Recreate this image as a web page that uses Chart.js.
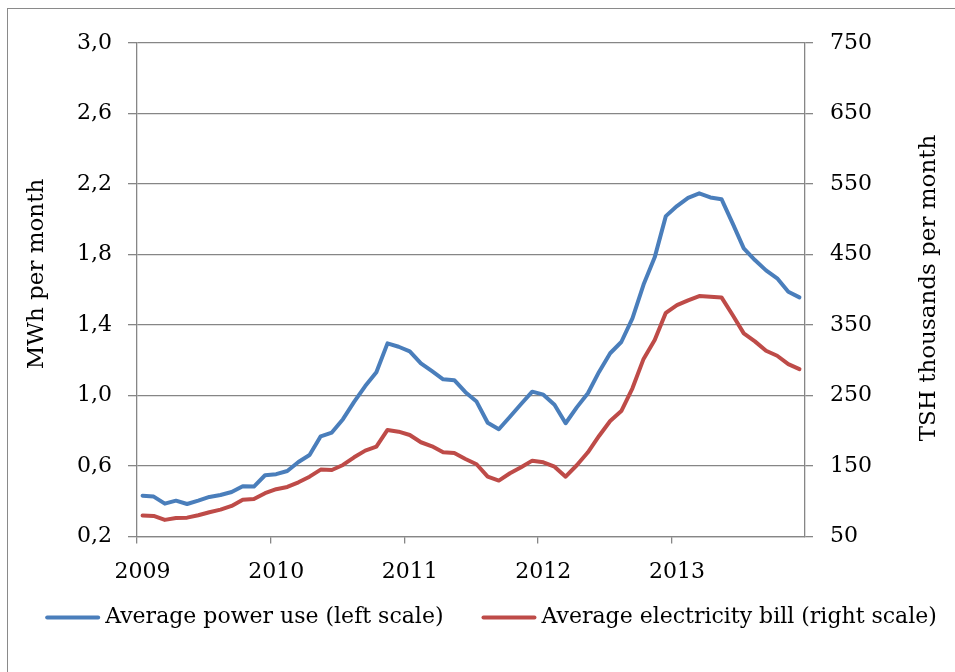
<!DOCTYPE html>
<html>
<head>
<meta charset="utf-8">
<script src="https://cdn.jsdelivr.net/npm/chart.js@4/dist/chart.umd.min.js"></script>
<style>
  html, body { margin: 0; padding: 0; background: #fff; overflow: hidden; }
  #frame { position: absolute; left: 7px; top: 8px; width: 1000px; height: 700px; border: 1px solid #8a8a8a; }
  #wrap { position: absolute; left: 0; top: 0; width: 955px; height: 672px; }
</style>
</head>
<body>
<div id="frame"></div>
<div id="wrap"><canvas id="chart"></canvas></div>
<script>
// Monthly averages, Jan 2009 - Dec 2013
const years = ['2009', '2010', '2011', '2012', '2013'];
const months = years.flatMap(y => Array.from({ length: 12 }, (_, m) => `${y}-${String(m + 1).padStart(2, '0')}`));

// MWh per month (left axis)
const powerUse = [
  0.432, 0.427, 0.387, 0.404, 0.385, 0.404, 0.425, 0.436, 0.453, 0.486, 0.484, 0.548,
  0.554, 0.572, 0.623, 0.663, 0.769, 0.790, 0.866, 0.964, 1.054, 1.132, 1.296, 1.277,
  1.251, 1.183, 1.138, 1.092, 1.087, 1.019, 0.966, 0.846, 0.809, 0.880, 0.952, 1.022,
  1.005, 0.948, 0.843, 0.933, 1.013, 1.134, 1.240, 1.304, 1.438, 1.630, 1.784, 2.018,
  2.075, 2.122, 2.147, 2.124, 2.114, 1.977, 1.835, 1.769, 1.710, 1.665, 1.589, 1.557
];

// TSH thousands per month (right axis)
const electricityBill = [
  79.8, 79.3, 73.7, 76.5, 76.9, 80.3, 84.6, 88.3, 93.5, 102.4, 103.4, 111.5,
  117.2, 120.4, 127.0, 135.0, 145.0, 144.5, 151.6, 162.5, 171.9, 177.5, 201.2, 198.8,
  194.1, 183.8, 178.1, 169.6, 168.6, 160.1, 152.6, 135.0, 129.4, 139.8, 148.3, 157.7,
  155.4, 149.2, 135.0, 151.2, 169.6, 192.7, 214.0, 228.1, 260.3, 302.0, 328.7, 367.4,
  378.3, 385.0, 391.1, 390.1, 389.2, 364.2, 338.2, 326.9, 313.6, 306.5, 294.7, 287.6
];

const leftTitle = 'MWh per month';
const rightTitle = 'TSH thousands per month';

const GRID = '#868686';
const FONT = '"DejaVu Serif", "Liberation Serif", serif';

// Both axis titles read bottom-to-top, so they are drawn here instead of scale.title
const axisTitles = {
  id: 'axisTitles',
  afterDraw(chart) {
    const { ctx, chartArea } = chart;
    const drawUp = (text, x, y) => {
      ctx.save();
      ctx.translate(x, y);
      ctx.rotate(-Math.PI / 2);
      ctx.fillText(text, 0, 0);
      ctx.restore();
    };
    ctx.save();
    ctx.font = `23px ${FONT}`;
    ctx.fillStyle = '#000';
    ctx.textAlign = 'center';
    ctx.textBaseline = 'middle';
    drawUp(leftTitle, chartArea.left - 100, chartArea.top + 231);
    drawUp(rightTitle, chartArea.right + 124, chartArea.top + 245);
    ctx.restore();
  }
};

// Single-row legend: long line sample, short gap, label; wider gap between entries
const lineLegend = {
  id: 'lineLegend',
  afterDraw(chart) {
    const { ctx, chartArea } = chart;
    const sample = 55, textGap = 5, itemGap = 38;
    ctx.save();
    ctx.font = `22px ${FONT}`;
    ctx.textBaseline = 'middle';
    ctx.textAlign = 'left';
    const items = chart.data.datasets.map(ds => ({
      text: ds.label, color: ds.borderColor, w: ctx.measureText(ds.label).width
    }));
    const total = items.reduce((s, it) => s + sample + textGap + it.w, 0) + itemGap * (items.length - 1);
    let x = chartArea.left + 354 - total / 2;
    const y = chartArea.bottom + 81;
    items.forEach(it => {
      ctx.strokeStyle = it.color;
      ctx.lineWidth = 4;
      ctx.lineCap = 'round';
      ctx.beginPath();
      ctx.moveTo(x + 2, y);
      ctx.lineTo(x + sample - 2, y);
      ctx.stroke();
      ctx.fillStyle = '#000';
      ctx.fillText(it.text, x + sample + textGap, y);
      x += sample + textGap + it.w + itemGap;
    });
    ctx.restore();
  }
};

new Chart(document.getElementById('chart'), {
  type: 'line',
  data: {
    labels: months,
    datasets: [
      {
        label: 'Average power use (left scale)',
        data: powerUse,
        yAxisID: 'y',
        borderColor: '#4a7ebb',
        backgroundColor: '#4a7ebb',
        borderWidth: 4,
        pointRadius: 0,
        tension: 0,
        borderJoinStyle: 'round',
        borderCapStyle: 'round'
      },
      {
        label: 'Average electricity bill (right scale)',
        data: electricityBill,
        yAxisID: 'y2',
        borderColor: '#be4b48',
        backgroundColor: '#be4b48',
        borderWidth: 4,
        pointRadius: 0,
        tension: 0,
        borderJoinStyle: 'round',
        borderCapStyle: 'round'
      }
    ]
  },
  options: {
    responsive: true,
    maintainAspectRatio: false,
    animation: false,
    layout: { padding: { left: 28, right: 0, top: 43, bottom: 72 } },
    plugins: {
      tooltip: { enabled: false },
      legend: { display: false }
    },
    scales: {
      x: {
        type: 'category',
        offset: true,
        grid: {
          offset: true,
          drawOnChartArea: false,
          tickLength: 7,
          lineWidth: 1.3,
          color: ctx => (ctx.index % 12 === 0 ? GRID : 'rgba(0,0,0,0)')
        },
        border: { display: true, color: GRID, width: 1.3 },
        ticks: {
          autoSkip: false,
          maxRotation: 0,
          padding: 15,
          color: '#000',
          font: { family: FONT, size: 22 },
          callback: (value, index) => (index % 12 === 0 ? years[index / 12] : '')
        }
      },
      y: {
        position: 'left',
        min: 0.2,
        max: 3.0,
        grid: { color: GRID, lineWidth: 1.3, tickLength: 9 },
        border: { display: true, color: GRID, width: 1.3 },
        ticks: {
          stepSize: 0.4,
          padding: 16,
          color: '#000',
          font: { family: FONT, size: 22 },
          callback: v => v.toFixed(1).replace('.', ',')
        },
        afterFit: scale => { scale.width = 109; }
      },
      y2: {
        position: 'right',
        min: 50,
        max: 750,
        grid: { drawOnChartArea: false, color: GRID, lineWidth: 1.3, tickLength: 8 },
        border: { display: true, color: GRID, width: 1.3 },
        ticks: {
          stepSize: 100,
          padding: 17,
          color: '#000',
          font: { family: FONT, size: 22 }
        },
        afterFit: scale => { scale.width = 150; }
      }
    }
  },
  plugins: [axisTitles, lineLegend]
});
</script>
</body>
</html>
